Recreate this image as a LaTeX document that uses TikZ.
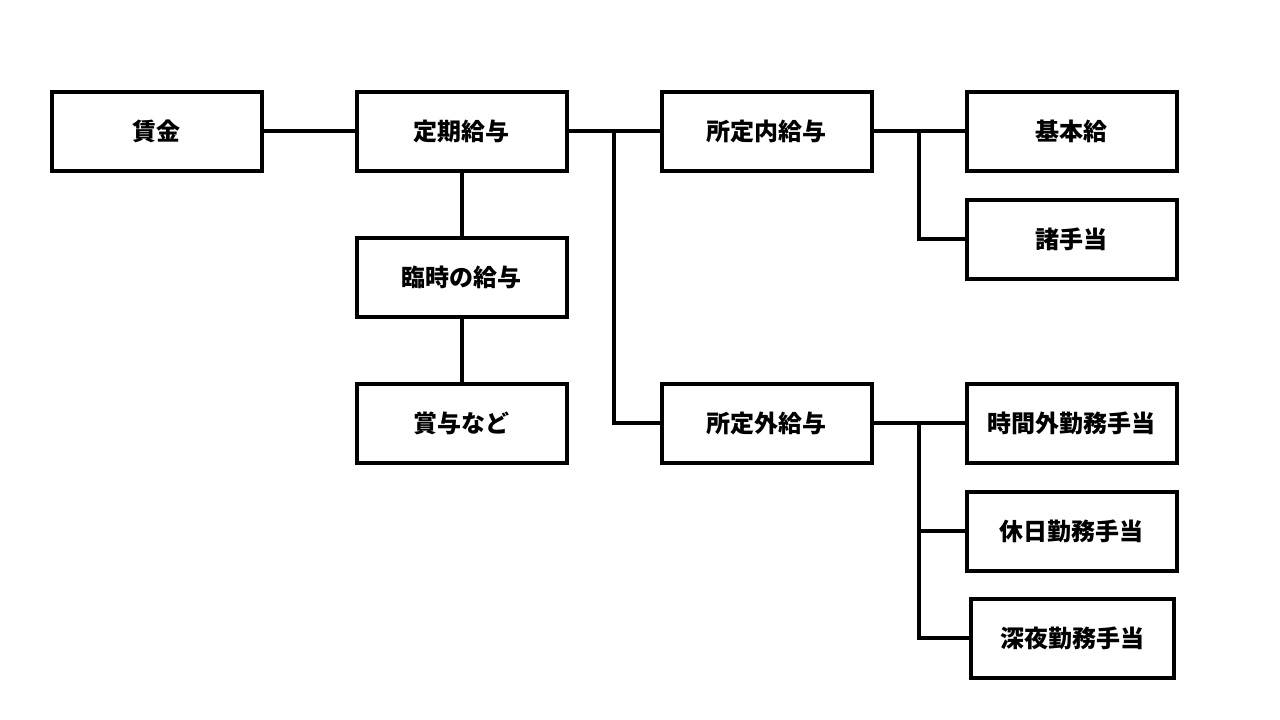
\documentclass[tikz,border=0pt]{standalone}
\usepackage{fontspec}
\newfontfamily\cjk{Noto Sans CJK JP}
\usepackage{tikz}
\usetikzlibrary{positioning}
\tikzset{
    boxnode/.style={
        rectangle,
        draw=black, % 黒い枠線
        fill=white,
        line width=4pt, % 太めの枠線
        minimum width=210pt,
        minimum height=79pt,
        inner sep=0,
        font=\cjk\bfseries\fontsize{24}{28}\selectfont
    },
    linkline/.style={
        draw=black,
        line width=4pt
    }
}

\begin{document}
\begin{tikzpicture}[x=1pt, y=-1pt]
            \useasboundingbox (0,0) rectangle (1280,720);
            % 左側の列
            \node[boxnode] (chingin) at (156.5,131) {賃金};
            \node[boxnode] (teiki) at (461.5,131) {定期給与};
            \node[boxnode] (rinji) at (461.5,277) {臨時の給与};
            \node[boxnode] (shoyo) at (461.5,423) {賞与など};
            % 中央の列
            \node[boxnode] (naikyu) at (766.5,131) {所定内給与};
            \node[boxnode] (gaikyu) at (766.5,423) {所定外給与};
            % 右側の列
            \node[boxnode] (kihon) at (1071.5,131) {基本給};
            \node[boxnode] (shote) at (1071.5,239) {諸手当};
            \node[boxnode] (jikangai) at (1071.5,423) {時間外勤務手当};
            \node[boxnode] (kyujitsu) at (1071.5,531) {休日勤務手当};
            \node[boxnode, minimum width=203pt] (shinya) at (1072,638) {深夜勤務手当};
            % 分岐点
            \coordinate (bunki1) at (614,131);
            \coordinate (bunki2) at (919,131);
            \coordinate (bunki3) at (919,423);
            % 接続線
            \draw[linkline] (chingin) -- (teiki);
            \draw[linkline] (teiki) -- (rinji);
            \draw[linkline] (rinji) -- (shoyo);
            \draw[linkline] (teiki) -- (naikyu);
            \draw[linkline] (bunki1) |- (gaikyu.west);
            \draw[linkline] (naikyu) -- (kihon);
            \draw[linkline] (bunki2) |- (shote.west);
            \draw[linkline] (gaikyu) -- (jikangai);
            \draw[linkline] (bunki3) |- (shinya.west);
            \draw[linkline] (bunki3 |- kyujitsu.west) -- (kyujitsu.west);
\end{tikzpicture}
\end{document}
